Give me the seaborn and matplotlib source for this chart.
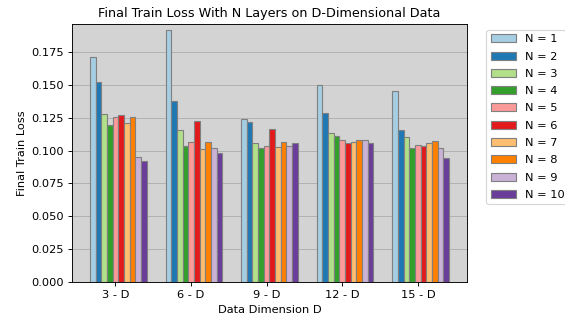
import numpy as np
import pandas as pd
import matplotlib
matplotlib.use("Agg")
import matplotlib.pyplot as plt
import seaborn as sns

dims = ["3 - D", "6 - D", "9 - D", "12 - D", "15 - D"]
layers = [f"N = {n}" for n in range(1, 11)]

# final training loss per dimension, one list per layer count N = 1..10
loss_n1 = [0.1717, 0.1918, 0.1240, 0.1500, 0.1457]
loss_n2 = [0.1526, 0.1378, 0.1222, 0.1288, 0.1156]
loss_n3 = [0.1278, 0.1156, 0.1061, 0.1138, 0.1105]
loss_n4 = [0.1199, 0.1038, 0.1023, 0.1110, 0.1023]
loss_n5 = [0.1255, 0.1069, 0.1038, 0.1079, 0.1046]
loss_n6 = [0.1270, 0.1227, 0.1166, 0.1061, 0.1033]
loss_n7 = [0.1214, 0.1015, 0.1031, 0.1064, 0.1056]
loss_n8 = [0.1255, 0.1069, 0.1069, 0.1082, 0.1071]
loss_n9 = [0.0954, 0.1023, 0.1036, 0.1079, 0.1023]
loss_n10 = [0.0918, 0.0985, 0.1059, 0.1059, 0.0946]

series = [loss_n1, loss_n2, loss_n3, loss_n4, loss_n5,
          loss_n6, loss_n7, loss_n8, loss_n9, loss_n10]

rows = []
for lab, vals in zip(layers, series):
    for d, v in zip(dims, vals):
        rows.append({"dim": d, "loss": v, "N": lab})
df = pd.DataFrame(rows)

DPI = 82
fig = plt.figure(figsize=(565 / DPI, 320 / DPI), dpi=DPI)
ax = fig.add_axes([0.1274, 0.1197, 0.8265 - 0.1274, 0.925 - 0.1197])
ax.set_facecolor("#d3d3d3")
ax.set_axisbelow(True)
ax.grid(True, color="#b0b0b0", linewidth=0.8)

sns.barplot(data=df, x="dim", y="loss", hue="N", order=dims, hue_order=layers,
            palette="Paired", saturation=1, width=0.75, errorbar=None,
            edgecolor="grey", linewidth=1, ax=ax)

ax.set_xlim(-0.6125, 4.6125)
ax.set_ylim(0, max(loss_n2 + loss_n1) * 1.025)
ax.set_xticks(np.arange(len(dims)) - 0.0375, dims)
ax.set_yticks(np.arange(0, 0.176, 0.025))
ax.yaxis.set_major_formatter(matplotlib.ticker.FormatStrFormatter("%.3f"))

ax.set_title("Final Train Loss With N Layers on D-Dimensional Data", fontsize=11.2)
ax.set_xlabel("Data Dimension D", fontsize=10, labelpad=5)
ax.set_ylabel("Final Train Loss", fontsize=10)
ax.tick_params(labelsize=10)

ax.legend(loc="upper left", bbox_to_anchor=(1.035, 1), fontsize=10,
          labelspacing=0.64, handlelength=2.2, title=None)

fig.savefig("out.png", dpi=DPI)
